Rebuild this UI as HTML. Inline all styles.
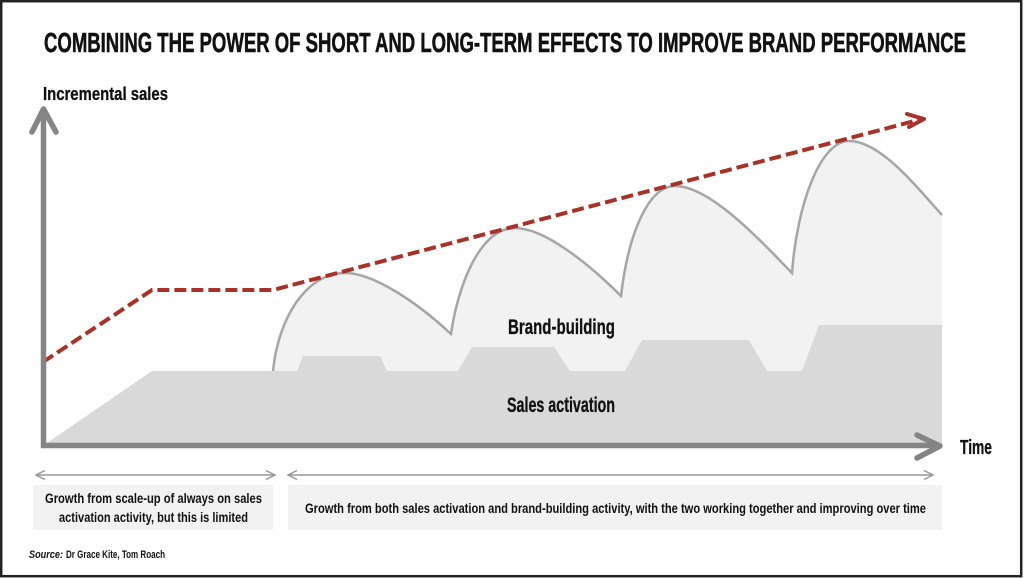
<!DOCTYPE html>
<html><head><meta charset="utf-8"><style>
html,body{margin:0;padding:0;background:#fff;}
svg{display:block;}
text{font-family:"Liberation Sans Narrow","Liberation Sans",sans-serif;font-weight:bold;fill:#111;}
.b{stroke:#111;stroke-width:0.6;}
.s{stroke:#111;stroke-width:0.3;}
</style></head><body>
<svg width="1024" height="578" viewBox="0 0 1024 578" xmlns="http://www.w3.org/2000/svg">
<rect x="0" y="0" width="1024" height="578" fill="#fff"/>
<rect x="1.2" y="1.2" width="1020" height="575" fill="none" stroke="#222" stroke-width="2.5"/>

<text class="b" x="44" y="52" font-size="28" textLength="922" lengthAdjust="spacingAndGlyphs">COMBINING THE POWER OF SHORT AND LONG-TERM EFFECTS TO IMPROVE BRAND PERFORMANCE</text>
<text class="s" x="43" y="100" font-size="18" textLength="125" lengthAdjust="spacingAndGlyphs">Incremental sales</text>

<!-- brand-building fill -->
<path d="M273,371 C278,320 305,273 345,273 C375,273 420,305 451,334 C458,285 480,228 515,228 C545,228 590,265 621,296 C628,235 648,186 675,186 C710,186 760,240 792,273 C797,205 820,141 849,141 C880,141 915,185 942,215 L942,445 L273,445 Z" fill="#f2f2f2"/>
<!-- sales activation fill -->
<path d="M44,445 L152,371 L297,371 L303,356 L380,356 L387,371 L458,371 L472,347 L554,347 L570,371 L625,371 L642,340 L749,340 L767,371 L802,371 L819,325 L942,325 L942,445 Z" fill="#d9d9d9"/>
<!-- brand-building curve -->
<path d="M273,371 C278,320 305,273 345,273 C375,273 420,305 451,334 C458,285 480,228 515,228 C545,228 590,265 621,296 C628,235 648,186 675,186 C710,186 760,240 792,273 C797,205 820,141 849,141 C880,141 915,185 942,215" fill="none" stroke="#a6a6a6" stroke-width="2.5"/>

<!-- red dashed line -->
<polyline points="43,362 152,290 273,290 922,119" fill="none" stroke="#a93226" stroke-width="4" stroke-dasharray="12,5"/>
<polyline points="907,114 924,119 909,127" fill="none" stroke="#a93226" stroke-width="4" stroke-linecap="round" stroke-linejoin="round"/>

<!-- axes -->
<line x1="43.5" y1="448" x2="43.5" y2="112" stroke="#858585" stroke-width="5.5"/>
<polyline points="32,132 43.5,109 56,132" fill="none" stroke="#858585" stroke-width="5.5" stroke-linecap="round" stroke-linejoin="round"/>
<line x1="41" y1="445.5" x2="938" y2="445.5" stroke="#858585" stroke-width="5.5"/>
<polyline points="917,435 940,446 917,458" fill="none" stroke="#858585" stroke-width="5.5" stroke-linecap="round" stroke-linejoin="round"/>

<text class="s" x="508" y="334" font-size="21" textLength="107" lengthAdjust="spacingAndGlyphs">Brand-building</text>
<text class="s" x="507" y="412" font-size="21" textLength="108" lengthAdjust="spacingAndGlyphs">Sales activation</text>
<text class="s" x="960" y="454" font-size="20" textLength="32" lengthAdjust="spacingAndGlyphs">Time</text>

<!-- bottom range arrows -->
<line x1="36" y1="475" x2="275" y2="475" stroke="#999" stroke-width="1.5"/>
<polyline points="45,470.5 36,475 45,479.5" fill="none" stroke="#999" stroke-width="1.5"/>
<polyline points="266,470.5 275,475 266,479.5" fill="none" stroke="#999" stroke-width="1.5"/>
<line x1="288" y1="475" x2="933" y2="475" stroke="#999" stroke-width="1.5"/>
<polyline points="297,470.5 288,475 297,479.5" fill="none" stroke="#999" stroke-width="1.5"/>
<polyline points="924,470.5 933,475 924,479.5" fill="none" stroke="#999" stroke-width="1.5"/>

<!-- boxes -->
<rect x="33" y="485" width="240" height="45" fill="#f2f2f2"/>
<rect x="288" y="485" width="654" height="45" fill="#f2f2f2"/>
<text x="45" y="503" font-size="14" textLength="217" lengthAdjust="spacingAndGlyphs">Growth from scale-up of always on sales</text>
<text x="59" y="522" font-size="14" textLength="189" lengthAdjust="spacingAndGlyphs">activation activity, but this is limited</text>
<text x="305" y="513" font-size="14" textLength="621" lengthAdjust="spacingAndGlyphs">Growth from both sales  activation and brand-building activity, with the two working together and improving over time</text>

<text x="29" y="558" font-size="11" font-style="italic" textLength="34" lengthAdjust="spacingAndGlyphs">Source:</text>
<text x="66" y="558" font-size="11" textLength="99" lengthAdjust="spacingAndGlyphs">Dr Grace Kite, Tom Roach</text>
</svg>
</body></html>
